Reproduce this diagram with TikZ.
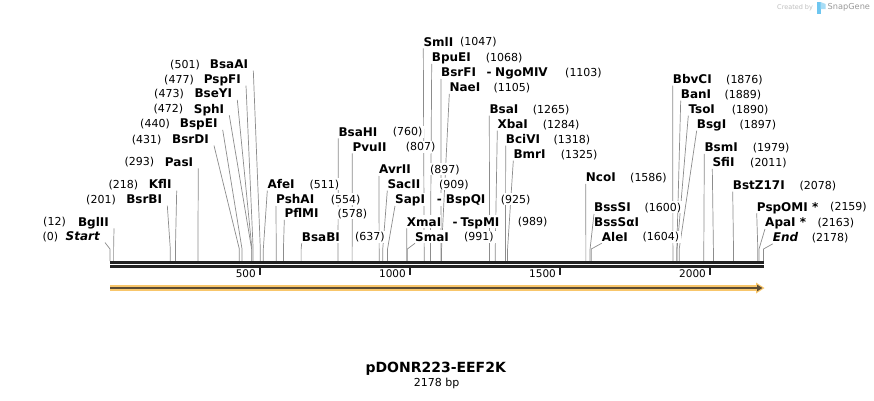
\documentclass[tikz,border=0pt]{standalone}
\usepackage{fontspec}
\setmainfont{DejaVu Sans}
\pgfdeclarelayer{bg}
\pgfsetlayers{bg,main}
\definecolor{bb}{HTML}{222222}
\definecolor{leadc}{HTML}{8C8C8C}
\definecolor{orng}{HTML}{F8C66B}
\definecolor{darr}{HTML}{5B4B33}
\definecolor{logoblue}{HTML}{6EC6F0}
\tikzset{
  enz/.style={font=\fontsize{12}{13}\selectfont\bfseries, inner xsep=0pt, inner ysep=2pt,
              text height=8.7pt, text depth=0pt, fill=white},
  num/.style={font=\fontsize{11}{12}\selectfont, inner xsep=2pt, inner ysep=2pt,
              text height=8pt, text depth=0pt, fill=white},
  leader/.style={draw=leadc, line width=0.7pt},
  ticklab/.style={font=\fontsize{10.5}{12}\selectfont, inner sep=0pt, anchor=east},
}
% right-side label: id, name start x, y, name, number start x, bp
\newcommand{\enzR}[6]{%
  \node[enz,anchor=west] (#1) at (#2,#3) {#4};
  \node[num,anchor=west] (#1n) at ({#5-2},#3) {(#6)};
  \begin{pgfonlayer}{bg}
    \draw[leader] (#1.south west) -- ({110+#6*0.30005},249) -- ({110+#6*0.30005},261);
  \end{pgfonlayer}}
% left-side label: id, name end x, y, name, number end x, bp
\newcommand{\enzL}[6]{%
  \node[enz,anchor=east] (#1) at (#2,#3) {#4};
  \node[num,anchor=east] (#1n) at ({#5+2},#3) {(#6)};
  \begin{pgfonlayer}{bg}
    \draw[leader] ([xshift=5pt]#1.south east) -- ({110+#6*0.30005},249) -- ({110+#6*0.30005},261);
  \end{pgfonlayer}}
% extra pieces of a label: id, x, y, text
\newcommand{\enzX}[4]{\node[enz,anchor=west] (#1) at (#2,#3) {#4};}
\begin{document}
\begin{tikzpicture}[x=1pt,y=-1pt]
\useasboundingbox (0,0) rectangle (874,400);
\begin{pgfonlayer}{bg}
\fill[white] (0,0) rectangle (874,400);
\end{pgfonlayer}

% logo
\node[font=\fontsize{6.5}{8}\selectfont, text=black!25, inner sep=0pt, anchor=west] (cby) at (777,7.5) {Created by};
\fill[logoblue] (817,2) rectangle (820.5,14);
\fill[logoblue!60] (820.5,2) -- (825.5,4) -- (825.5,9) -- (820.5,9) -- cycle;
\node[font=\fontsize{8.2}{10}\selectfont, text=black!40, inner sep=0pt, anchor=west] (sg) at (827.5,7.5) {SnapGene};

% backbone
\draw[bb, line width=2.7pt] (110,262.3) -- (763.5,262.3);
\draw[bb, line width=2.4pt] (110,266.5) -- (763.5,266.5);
\foreach \t/\lab in {500/500,1000/1000,1500/1500,2000/2000}{
  \draw[bb, line width=1.6pt] ({110+\t*0.30005},267) -- ({110+\t*0.30005},275);
  \node[ticklab] (tick\t) at ({106+\t*0.30005},274) {\lab};
}

% feature arrow
\fill[orng] (110,285.2) rectangle (757,290.8);
\fill[orng] (756,282.5) -- (764.5,288) -- (756,293.5) -- cycle;
\draw[darr, line width=1.8pt] (110,288) -- (757,288);
\fill[darr] (757,284.6) -- (762.3,288) -- (757,291.4) -- cycle;

% left labels
\enzL{BsaAI}{248.3}{64}{BsaAI}{200}{501}
\enzL{PspFI}{241}{79}{PspFI}{194}{477}
\enzL{BseYI}{232.3}{93.3}{BseYI}{184}{473}
\enzL{SphI}{224.3}{108.7}{SphI}{183.3}{472}
\enzL{BspEI}{217.7}{123.3}{BspEI}{170}{440}
\enzL{BsrDI}{209}{139}{BsrDI}{161.7}{431}
\enzL{PasI}{193.3}{161.7}{PasI}{154.3}{293}
\enzL{KflI}{171.7}{184}{KflI}{138.3}{218}
\enzL{BsrBI}{162.3}{199}{BsrBI}{116}{201}
\enzL{BglII}{109}{221.7}{BglII}{66}{12}
\enzL{Start}{100}{236}{\itshape Start}{58.3}{0}

% right labels
\enzR{AfeI}{267.3}{184}{AfeI}{309.3}{511}
\enzR{PshAI}{276}{199.3}{PshAI}{330.7}{554}
\enzR{PflMI}{284.3}{213.3}{PflMI}{337.3}{578}
\enzR{BsaBI}{301.7}{236.7}{BsaBI}{355}{637}
\enzR{BsaHI}{338.3}{131.7}{BsaHI}{392.7}{760}
\enzR{PvuII}{352.3}{146.7}{PvuII}{405.7}{807}
\enzR{AvrII}{379}{169.3}{AvrII}{430}{897}
\enzR{SacII}{387.3}{184}{SacII}{439}{909}
\enzR{SapI}{395}{199.3}{SapI}{500.7}{925}
\enzX{SapId}{436.7}{199.3}{-}
\enzX{BspQI}{445.7}{199.3}{BspQI}
\enzR{XmaI}{406.7}{221.7}{XmaI}{517.7}{989}
\enzX{XmaId}{452.5}{221.7}{-}
\enzX{TspMI}{460.5}{221.7}{TspMI}
\enzR{SmaI}{415}{236.7}{SmaI}{464}{991}
\enzR{SmlI}{423.3}{41.7}{SmlI}{460}{1047}
\enzR{BpuEI}{431.7}{57.3}{BpuEI}{485.7}{1068}
\enzR{BsrFI}{441}{72.3}{BsrFI}{565}{1103}
\enzX{BsrFId}{486.5}{72.3}{-}
\enzX{NgoMIV}{495}{72.3}{NgoMIV}
\enzR{NaeI}{449.3}{87.3}{NaeI}{493.3}{1105}
\enzR{BsaI}{489.3}{109}{BsaI}{532.7}{1265}
\enzR{XbaI}{497.3}{124}{XbaI}{542.7}{1284}
\enzR{BciVI}{505.7}{139}{BciVI}{553.3}{1318}
\enzR{BmrI}{513.3}{154}{BmrI}{560.7}{1325}
\enzR{NcoI}{585.7}{177.3}{NcoI}{630}{1586}
\enzR{BssSI}{594}{207.3}{BssSI}{644.3}{1600}
\enzX{BssSaI}{594}{222.3}{BssSαI}
\enzR{AleI}{601.7}{236.7}{AleI}{642.3}{1604}
\enzR{BbvCI}{672.7}{79}{BbvCI}{726}{1876}
\enzR{BanI}{680.7}{94}{BanI}{724.3}{1889}
\enzR{TsoI}{688.3}{109}{TsoI}{731.7}{1890}
\enzR{BsgI}{696.7}{124}{BsgI}{739.3}{1897}
\enzR{BsmI}{704.3}{147.3}{BsmI}{752.7}{1979}
\enzR{SfiI}{712.3}{162.3}{SfiI}{750}{2011}
\enzR{BstZ}{732.7}{185}{BstZ17I}{799.3}{2078}
\enzR{PspOMI}{756.7}{206.7}{PspOMI *}{830}{2159}
\enzR{ApaI}{765}{222.3}{ApaI *}{817.3}{2163}
\enzR{End}{772.7}{237.3}{\itshape End}{811.7}{2178}

% title
\node[font=\fontsize{14}{16}\selectfont\bfseries, inner sep=0pt] (title) at (435.7,369) {pDONR223-EEF2K};
\node[font=\fontsize{11}{12}\selectfont, inner sep=0pt] (size) at (436.7,383) {2178 bp};
\end{tikzpicture}
\end{document}
